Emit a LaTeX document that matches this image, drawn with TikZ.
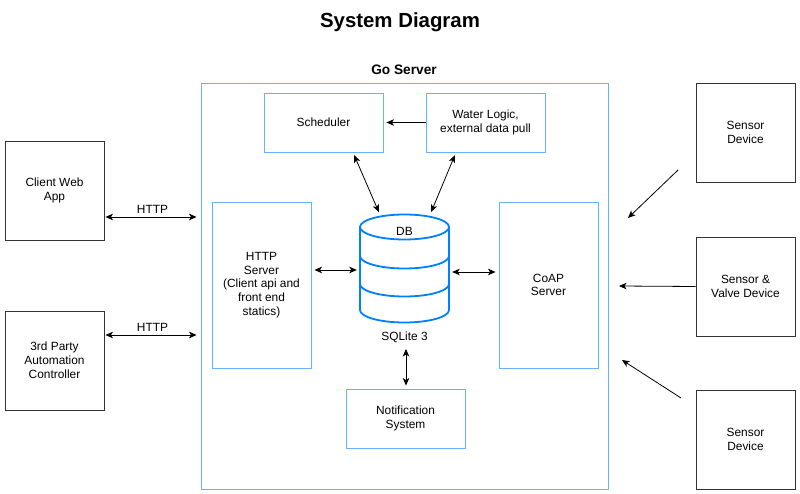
\documentclass[tikz,border=0pt]{standalone}
\usepackage{fontspec}
\setmainfont{Liberation Sans}
\usetikzlibrary{arrows.meta}

\definecolor{boxblue}{RGB}{102,178,255}
\definecolor{dbblue}{RGB}{0,127,255}

\tikzset{
  >={Stealth[length=7.5pt,width=6.5pt,inset=2pt]},
  txt/.style={font=\fontsize{11.9}{13.8}\selectfont, align=center},
  blubox/.style={txt, draw=boxblue, line width=0.9pt, inner sep=0pt},
  devbox/.style={txt, draw=black!80, line width=0.9pt, minimum width=99pt, minimum height=99pt, inner sep=0pt},
  dbline/.style={draw=dbblue, line width=1.8pt},
}

\begin{document}
\begin{tikzpicture}[x=1pt,y=-1pt]
\useasboundingbox (0,0) rectangle (800,494);

% title and server frame
\node[font=\bfseries\fontsize{20.4}{24}\selectfont] (title) at (400,22) {System Diagram};
\node[font=\bfseries\fontsize{13.7}{16}\selectfont] (golabel) at (404,70) {Go Server};
\node[blubox, minimum width=407pt, minimum height=406pt] (gosrv) at (404.5,286) {};

% inside the server
\node[blubox, minimum width=119pt, minimum height=59pt] (sched) at (323.5,122.5) {Scheduler};
\node[blubox, minimum width=119pt, minimum height=59pt] (water) at (485.5,122.5) {Water Logic,\\external data pull};
\node[blubox, minimum width=99pt, minimum height=166pt] (http) at (261.5,285) {HTTP\\Server\\(Client api and\\front end\\statics)};
\node[blubox, minimum width=99pt, minimum height=166pt] (coap) at (548.5,285) {CoAP\\Server};
\node[blubox, minimum width=119pt, minimum height=59pt] (notif) at (405.5,418.5) {Notification\\System};

% database
\node[minimum width=89pt, minimum height=107pt, inner sep=0pt] (db) at (404.5,268.5) {};
\draw[dbline] (360,227) -- (360,310) arc (180:360:44.5pt and 12.5pt) -- (449,227);
\draw[dbline] (404.5,227) ellipse (44.5pt and 12.5pt);
\draw[dbline] (360,256) arc (180:360:44.5pt and 12.5pt);
\draw[dbline] (360,284) arc (180:360:44.5pt and 12.5pt);
\node[txt] (dblabel) at (404.5,231) {DB};
\node[txt] (sqlite) at (404.5,337) {SQLite 3};

% outside devices
\node[devbox] (client) at (54.5,190.5) {Client Web\\App};
\node[devbox] (third) at (54.5,360.5) {3rd Party\\Automation\\Controller};
\node[devbox] (sens1) at (745.5,132.5) {Sensor\\Device};
\node[devbox] (sens2) at (745.5,286.5) {Sensor \&\\Valve Device};
\node[devbox] (sens3) at (745.5,439.5) {Sensor\\Device};

\coordinate (s1a) at (678,170);
\coordinate (s1b) at (628,218);
\coordinate (s2b) at (619,286);
\coordinate (s3a) at (681,398);
\coordinate (s3b) at (622,360);

\path[<->, line width=0.8pt, shorten <=1pt, shorten >=4pt]
(client.east |- 0,217) edge node[txt, above] {HTTP} (gosrv.west |- 0,217)
(third.east |- 0,335) edge node[txt, above] {HTTP} (gosrv.west |- 0,335);

\path[<->, line width=0.8pt, shorten <=3pt, shorten >=3pt]
(sched.south -| 353,0) edge (db.north -| 380,0)
(water.south -| 456,0) edge (db.north -| 430,0)
(http.east |- 0,270) edge (db.west |- 0,270)
(db.east |- 0,272) edge (coap.west |- 0,272)
(notif.north -| 406,0) edge (sqlite.south -| 406,0);

\path[->, line width=0.8pt]
(water.west) edge[shorten >=3pt] (sched.east)
(s1a) edge (s1b)
(sens2.west) edge (s2b)
(s3a) edge (s3b);
\end{tikzpicture}
\end{document}
